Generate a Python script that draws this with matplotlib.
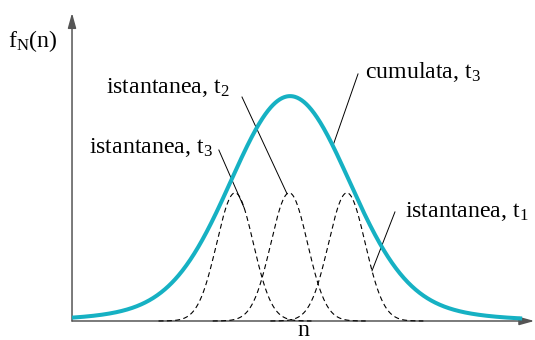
import numpy as np
import matplotlib
matplotlib.use("Agg")
import matplotlib.pyplot as plt

plt.rcParams["font.family"] = "Liberation Serif"
plt.rcParams["mathtext.fontset"] = "custom"
plt.rcParams["mathtext.rm"] = "Liberation Serif"
plt.rcParams["mathtext.it"] = "Liberation Serif"
plt.rcParams["mathtext.default"] = "regular"

# distribuzioni istantanee (t3, t2, t1 da sinistra a destra)
inst_center = [3.73, 4.97, 6.29]
inst_sigma = [0.42, 0.42, 0.42]
inst_height = [0.416, 0.416, 0.416]

# distribuzione cumulata a t3: nucleo + code più larghe
cum_center = 4.99
cum_sigma = [1.33, 2.52]
cum_weight = [0.9, 0.1]
cum_height = 0.73

CYAN = "#16b1c3"
AXIS = "#555555"


def inst(n, i):
    return inst_height[i] * np.exp(-(n - inst_center[i]) ** 2 / (2 * inst_sigma[i] ** 2))


def cum(n):
    f = sum(w * np.exp(-(n - cum_center) ** 2 / (2 * s ** 2))
            for w, s in zip(cum_weight, cum_sigma))
    return cum_height * f


fig = plt.figure(figsize=(5.35, 3.4), dpi=100)
ax = fig.add_axes([0, 0, 1, 1])
ax.set_xlim(-1.648, 10.595)
ax.set_ylim(-0.0617, 1.042)
ax.axis("off")

for i in range(3):
    ni = np.linspace(inst_center[i] - 1.75, inst_center[i] + 1.75, 300)
    ax.plot(ni, inst(ni, i), color="black", lw=0.8, ls=(0, (4.5, 3)), zorder=2)

n = np.linspace(0, 10.3, 800)
ax.plot(n, cum(n), color=CYAN, lw=2.9, solid_capstyle="butt", zorder=3)

# assi con frecce
arrow = dict(arrowstyle="-|>,head_length=0.9,head_width=0.25", color=AXIS, lw=1.1,
             shrinkA=0, shrinkB=0)
ax.annotate("", xy=(10.58, 0), xytext=(0, 0), arrowprops=arrow, zorder=1)
ax.annotate("", xy=(0, 1.0), xytext=(0, 0), arrowprops=arrow, zorder=1)

fs = 17.2
ax.text(-1.465, 0.89, "f$_N$(n)", fontsize=fs, va="baseline")
ax.text(5.29, -0.05, "n", fontsize=fs, va="baseline", ha="center")

# etichette con linee di richiamo
ax.text(0.778, 0.74, "istantanea, t$_2$", fontsize=fs, va="baseline")
ax.plot([3.89, 4.92], [0.727, inst(4.92, 1)], color="black", lw=0.7)

ax.text(0.389, 0.545, "istantanea, t$_3$", fontsize=fs, va="baseline")
ax.plot([3.36, 3.94], [0.555, inst(3.94, 0)], color="black", lw=0.7)

ax.text(6.70, 0.789, "cumulata, t$_3$", fontsize=fs, va="baseline")
ax.plot([6.545, 5.97], [0.802, cum(5.97)], color="black", lw=0.7)

ax.text(7.62, 0.338, "istantanea, t$_1$", fontsize=fs, va="baseline")
ax.plot([7.39, 6.865], [0.354, inst(6.865, 2)], color="black", lw=0.7)

fig.savefig("out.png", dpi=100)
